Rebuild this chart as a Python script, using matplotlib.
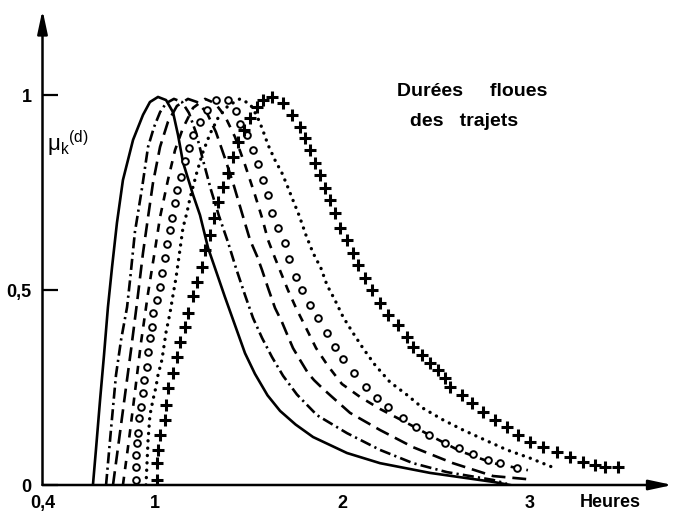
import matplotlib
matplotlib.use("Agg")
import matplotlib.pyplot as plt

plt.rcParams['font.family'] = ['Liberation Sans', 'DejaVu Sans']
plt.rcParams['mathtext.fontset'] = 'custom'
plt.rcParams['mathtext.rm'] = 'Liberation Sans'
plt.rcParams['mathtext.it'] = 'Liberation Sans'
plt.rcParams['mathtext.default'] = 'regular'
plt.rcParams['lines.scale_dashes'] = False

# durations (hours) and membership values
solid_x = [0.669, 0.685, 0.707, 0.728, 0.749, 0.771, 0.797, 0.829, 0.883, 0.936, 0.973, 1.016,
           1.059, 1.096, 1.123, 1.149, 1.203, 1.24, 1.283, 1.373, 1.48, 1.533, 1.6, 1.667,
           1.75, 1.843, 2.024, 2.2, 2.467, 2.803, 2.893]
solid_y = [0.0, 0.09, 0.218, 0.333, 0.456, 0.559, 0.672, 0.782, 0.885, 0.949, 0.982, 0.995,
           0.987, 0.956, 0.897, 0.828, 0.744, 0.692, 0.608, 0.482, 0.338, 0.285, 0.23, 0.19,
           0.155, 0.123, 0.082, 0.056, 0.031, 0.008, 0.0]

dashdot_x = [0.739, 0.765, 0.792, 0.819, 0.851, 0.867, 0.893, 0.931, 0.963, 0.995, 1.027, 1.059,
             1.101, 1.144, 1.181, 1.219, 1.256, 1.299, 1.341, 1.389, 1.432, 1.48, 1.523, 1.571,
             1.624, 1.683, 1.757, 1.864, 2.024, 2.2, 2.376, 2.557, 2.803, 2.877]
dashdot_y = [0.0, 0.141, 0.282, 0.372, 0.456, 0.526, 0.649, 0.762, 0.867, 0.918, 0.956, 0.979,
             0.99, 0.982, 0.954, 0.903, 0.833, 0.756, 0.69, 0.623, 0.556, 0.487, 0.428, 0.377,
             0.328, 0.28, 0.232, 0.179, 0.133, 0.09, 0.056, 0.033, 0.013, 0.003]

longdash_x = [0.776, 0.808, 0.84, 0.872, 0.904, 0.936, 0.963, 0.989, 1.027, 1.069, 1.117, 1.176,
              1.224, 1.277, 1.325, 1.373, 1.421, 1.464, 1.507, 1.544, 1.571, 1.603, 1.64, 1.677,
              1.704, 1.736, 1.773, 1.816, 1.848, 1.891, 1.944, 2.04, 2.2, 2.376, 2.589, 2.803, 2.984]
longdash_y = [0.0, 0.115, 0.231, 0.346, 0.467, 0.595, 0.687, 0.774, 0.867, 0.931, 0.972, 0.99,
              0.982, 0.954, 0.905, 0.838, 0.767, 0.697, 0.628, 0.587, 0.551, 0.505, 0.454, 0.418,
              0.387, 0.351, 0.321, 0.287, 0.269, 0.249, 0.226, 0.185, 0.141, 0.097, 0.056, 0.023, 0.015]

dash_x = [0.829, 0.861, 0.893, 0.925, 0.963, 1.0, 1.027, 1.069, 1.107, 1.149, 1.203, 1.267,
          1.32, 1.373, 1.427, 1.48, 1.533, 1.571, 1.603, 1.64, 1.677, 1.709, 1.752, 1.8,
          1.859, 1.923, 1.997, 2.093, 2.2, 2.344, 2.483, 2.627, 2.803, 2.989]
dash_y = [0.0, 0.115, 0.238, 0.364, 0.492, 0.603, 0.687, 0.782, 0.859, 0.915, 0.967, 0.99,
          0.979, 0.946, 0.892, 0.821, 0.744, 0.685, 0.628, 0.582, 0.538, 0.5, 0.454, 0.408,
          0.351, 0.305, 0.259, 0.226, 0.195, 0.159, 0.123, 0.087, 0.056, 0.038]

circle_x = [0.899, 0.899, 0.899, 0.904, 0.909, 0.915, 0.925, 0.936, 0.941, 0.957, 0.963, 0.973,
            0.984, 0.989, 1.011, 1.027, 1.037, 1.053, 1.064, 1.08, 1.091, 1.107, 1.117, 1.139,
            1.16, 1.181, 1.203, 1.24, 1.277, 1.325, 1.389, 1.432, 1.453, 1.491, 1.523, 1.549,
            1.576, 1.603, 1.624, 1.656, 1.693, 1.715, 1.752, 1.784, 1.827, 1.869, 1.917, 1.96,
            2.003, 2.061, 2.125, 2.184, 2.243, 2.323, 2.392, 2.461, 2.547, 2.621, 2.696, 2.776,
            2.84, 2.931]
circle_y = [0.013, 0.046, 0.077, 0.108, 0.133, 0.172, 0.2, 0.236, 0.269, 0.303, 0.341, 0.377,
            0.405, 0.441, 0.474, 0.508, 0.544, 0.582, 0.618, 0.654, 0.685, 0.723, 0.756, 0.79,
            0.83, 0.864, 0.897, 0.931, 0.962, 0.987, 0.987, 0.959, 0.926, 0.897, 0.859, 0.823,
            0.782, 0.744, 0.697, 0.659, 0.621, 0.579, 0.533, 0.5, 0.462, 0.428, 0.39, 0.354,
            0.323, 0.287, 0.251, 0.223, 0.2, 0.172, 0.149, 0.128, 0.108, 0.095, 0.079, 0.064,
            0.056, 0.044]

dot_x = [0.952, 0.963, 0.973, 0.989, 1.005, 1.016, 1.037, 1.059, 1.08, 1.096, 1.112, 1.133,
         1.149, 1.171, 1.187, 1.224, 1.256, 1.293, 1.336, 1.389, 1.453, 1.507, 1.544, 1.571,
         1.603, 1.64, 1.677, 1.704, 1.731, 1.768, 1.805, 1.843, 1.885, 1.917, 1.96, 2.003,
         2.056, 2.109, 2.173, 2.253, 2.344, 2.429, 2.536, 2.643, 2.771, 2.877, 3.0, 3.144]
dot_y = [0.0, 0.115, 0.179, 0.218, 0.251, 0.282, 0.321, 0.392, 0.441, 0.487, 0.531, 0.603,
         0.659, 0.7, 0.736, 0.803, 0.854, 0.9, 0.941, 0.972, 0.99, 0.977, 0.946, 0.915,
         0.872, 0.833, 0.8, 0.769, 0.736, 0.692, 0.641, 0.595, 0.556, 0.513, 0.474, 0.431,
         0.39, 0.351, 0.308, 0.264, 0.231, 0.197, 0.167, 0.141, 0.113, 0.09, 0.069, 0.041]

plus_x = [1.011, 1.011, 1.016, 1.027, 1.053, 1.059, 1.069, 1.096, 1.117, 1.133, 1.16, 1.176,
          1.203, 1.224, 1.251, 1.267, 1.293, 1.315, 1.336, 1.363, 1.389, 1.416, 1.443, 1.475,
          1.507, 1.544, 1.576, 1.624, 1.683, 1.731, 1.773, 1.8, 1.827, 1.853, 1.88, 1.907,
          1.933, 1.96, 1.987, 2.024, 2.056, 2.083, 2.12, 2.157, 2.2, 2.243, 2.296, 2.344,
          2.376, 2.424, 2.467, 2.509, 2.547, 2.573, 2.637, 2.691, 2.749, 2.813, 2.877, 2.936,
          3.0, 3.069, 3.144, 3.213, 3.283, 3.347, 3.4, 3.469]
plus_y = [0.013, 0.056, 0.09, 0.128, 0.167, 0.205, 0.249, 0.287, 0.328, 0.367, 0.405, 0.441,
          0.485, 0.521, 0.559, 0.603, 0.641, 0.685, 0.726, 0.764, 0.8, 0.841, 0.879, 0.91,
          0.941, 0.969, 0.987, 0.995, 0.979, 0.949, 0.918, 0.89, 0.859, 0.826, 0.795, 0.762,
          0.731, 0.697, 0.659, 0.628, 0.595, 0.564, 0.531, 0.5, 0.467, 0.436, 0.41, 0.379,
          0.354, 0.333, 0.313, 0.295, 0.274, 0.251, 0.231, 0.21, 0.187, 0.167, 0.149, 0.128,
          0.11, 0.097, 0.085, 0.072, 0.059, 0.051, 0.046, 0.046]

x_ticks = [0.4, 1, 2, 3]
x_ticklabels = ['0,4', '1', '2', '3']
y_ticks = [0, 0.5, 1]
y_ticklabels = ['0', '0,5', '1']

fig = plt.figure(figsize=(6.73, 5.12), dpi=100)
ax = fig.add_axes([42.5 / 673, 27 / 512, 630.5 / 673, 1.22 * 390 / 512])
ax.set_xlim(0.4, 0.4 + 630.5 / 187.5)
ax.set_ylim(0, 1.22)

ax.plot(solid_x, solid_y, color='k', lw=1.9)
ax.plot(dashdot_x, dashdot_y, color='k', lw=1.9, dashes=(8, 3, 1.6, 3))
ax.plot(longdash_x, longdash_y, color='k', lw=1.9, dashes=(10, 5))
ax.plot(dash_x, dash_y, color='k', lw=1.9, dashes=(6, 5.5))
ax.plot(circle_x, circle_y, ls='none', marker='o', ms=4.8, mfc='white', mec='k', mew=1.4)
ax.plot(dot_x, dot_y, color='k', lw=2.4, linestyle=(0, (0.1, 5.2)), dash_capstyle='round')
ax.plot(plus_x, plus_y, ls='none', marker='+', ms=8.5, mew=2.2, color='k')

# axes drawn as arrows
for s in ax.spines.values():
    s.set_visible(False)
arrow = dict(arrowstyle='-|>,head_length=1.4,head_width=0.3', lw=1.8, color='k',
             mutation_scale=10, shrinkA=0, shrinkB=0)
ax.annotate('', xy=(0.4, 1.218), xytext=(0.4, 0), arrowprops=arrow, annotation_clip=False)
ax.annotate('', xy=(0.4 + 630 / 187.5, 0), xytext=(0.4, 0), arrowprops=arrow, annotation_clip=False)

ax.set_xticks(x_ticks)
ax.set_xticklabels(x_ticklabels, fontweight='bold')
ax.set_yticks(y_ticks)
ax.set_yticklabels(y_ticklabels, fontweight='bold')
ax.tick_params(axis='x', length=0, pad=7, labelsize=13)
ax.tick_params(axis='y', direction='in', length=11, width=1.6, pad=8, labelsize=13)

ax.set_xlabel('Heures', fontsize=13, fontweight='bold')
ax.xaxis.set_label_coords(0.9, -0.018)

ax.text(0.425, 0.875, r'$\mu_k{}^{(d)}$', fontsize=16, ha='left', va='center')
ax.text(2.291, 1.008, 'Durées     floues', fontsize=14, fontweight='bold', ha='left', va='center')
ax.text(2.36, 0.931, 'des   trajets', fontsize=14, fontweight='bold', ha='left', va='center')

fig.savefig('out.png', dpi=100)
